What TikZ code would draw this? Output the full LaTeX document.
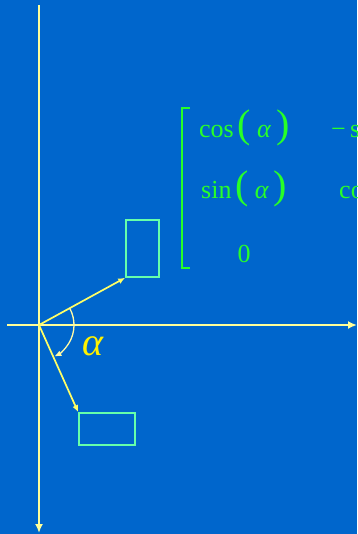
\documentclass[tikz,border=0pt]{standalone}
\usepackage{fontspec}
\setmainfont{Liberation Serif}
\usetikzlibrary{arrows.meta,positioning}
\definecolor{bgblue}{RGB}{0,102,204}
\definecolor{axisyellow}{RGB}{255,255,153}
\definecolor{vecyellow}{RGB}{255,255,102}
\definecolor{boxgreen}{RGB}{102,255,170}
\definecolor{matgreen}{RGB}{40,255,40}
\newcommand{\bigparen}[1]{{\fontsize{40}{40}\selectfont #1}}
\newcommand{\rotarg}{\hspace{4pt}\bigparen{(}\hspace{6pt}\textit{α}\hspace{5pt}\bigparen{)}}

\begin{document}
\begin{tikzpicture}[
    x=1pt, y=1pt,
    axis/.style={draw=axisyellow, line width=2.6pt, -{Latex[length=9pt,width=8pt]}},
    vec/.style={draw=vecyellow, line width=1.7pt, -{Latex[length=7pt,width=6pt]}},
    anglearrow/.style={draw=yellow!35!white, line width=1.3pt, -{Latex[length=7pt,width=6pt]}},
    frame/.style={rectangle, draw=boxgreen, line width=1.6pt, inner sep=0pt},
    entry/.style={text=matgreen, inner sep=0pt, anchor=west, font=\fontsize{26}{30}\selectfont}
]
\fill[bgblue] (0,0) rectangle (357,-534);
\useasboundingbox (0,0) rectangle (357,-534);
\clip (0,0) rectangle (357,-534);

% Nodes
\coordinate (origin) at (39,-325);
\coordinate (ytop) at (39,-5);
\coordinate (ybot) at (39,-533);
\coordinate (xleft) at (7,-325);
\coordinate (xright) at (357,-325);
\node[frame, minimum width=33pt, minimum height=57pt] (box1) at (142.5,-248.5) {};
\node[frame, minimum width=56pt, minimum height=32pt] (box2) at (107,-429) {};
\node[text=yellow, font=\fontsize{40}{40}\selectfont\itshape] (alpha) at (93,-346) {α};

% Matrix
\draw[matgreen, line width=1.5pt] (190,-108) -- (182,-108) -- (182,-268) -- (190,-268);
\node[entry] (c11) at (199,-128) {cos\rotarg};
\node[entry] (c21) at (201,-189) {sin\rotarg};
\node[entry, anchor=center] (c31) at (244,-254) {0};
\node[entry] (c12) at (331,-128) {−\,sin\rotarg};
\node[entry] (c22) at (339,-189) {cos\rotarg};

% Arrows
\draw[axis] (ytop) -- (ybot);
\draw[axis] (xleft) -- (xright);
\draw[vec] (origin) -- (box1.south west);
\draw[vec] (origin) -- (box2.north west);
\draw[anglearrow] ([shift={(28.6:35)}]origin) arc[start angle=28.6, end angle=-64, radius=35];

\end{tikzpicture}
\end{document}
